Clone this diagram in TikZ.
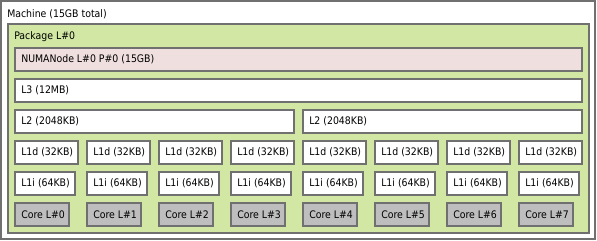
\documentclass[tikz,border=0pt]{standalone}
\usepackage{fontspec}
\setmainfont{DejaVu Sans}[FakeStretch=0.9]
\usetikzlibrary{positioning}

\definecolor{linegray}{RGB}{112,112,112}
\definecolor{pkggreen}{RGB}{210,231,164}
\definecolor{numapink}{RGB}{239,223,222}
\definecolor{coregray}{RGB}{190,190,190}

\begin{document}
\begin{tikzpicture}[x=0.75pt, y=-0.75pt,
  hw/.style={draw=linegray, line width=1.1pt, inner sep=0pt, outer sep=0pt,
    anchor=north west, minimum height=17.25pt},
  wd/.style={minimum width=#1*0.75pt},
  txt/.style={font=\fontsize{7.8}{9}\selectfont, inner sep=0pt},
  tag/.style={label={[txt, anchor=west, xshift=4.5pt]west:#1}},
  toptag/.style={label={[txt, anchor=west, xshift=4.5pt, yshift=-9.6pt]north west:#1}}]
\useasboundingbox (0,0) rectangle (597,241);

\node[hw, wd=594, minimum height=238*0.75pt, fill=white, toptag={Machine (15GB total)}] (machine) at (1,1) {};
\node[hw, wd=581, minimum height=209*0.75pt, fill=pkggreen, toptag={Package L\#0}] (package) at (8,24) {};

\node[hw, wd=567, fill=numapink, tag={NUMANode L\#0 P\#0 (15GB)}] (numa) at (15,48) {};
\node[hw, wd=567, fill=white, tag={L3 (12MB)}, below=6pt of numa.south west, anchor=north west] (l3) {};
\node[hw, wd=279, fill=white, tag={L2 (2048KB)}, below=6pt of l3.south west, anchor=north west] (l2a) {};
\node[hw, wd=279, fill=white, tag={L2 (2048KB)}, right=6.75pt of l2a.north east, anchor=north west] (l2b) {};

% one column per core
\foreach \i in {0,...,7} {
  \node[hw, wd=63, fill=white, tag={L1d (32KB)}] (l1d\i) at (15+72*\i,141) {};
  \node[hw, wd=60, fill=white, tag={L1i (64KB)}, below=6pt of l1d\i.south west, anchor=north west] (l1i\i) {};
  \node[hw, wd=54, fill=coregray, tag={Core L\#\i}, below=6pt of l1i\i.south west, anchor=north west] (core\i) {};
}
\end{tikzpicture}
\end{document}
